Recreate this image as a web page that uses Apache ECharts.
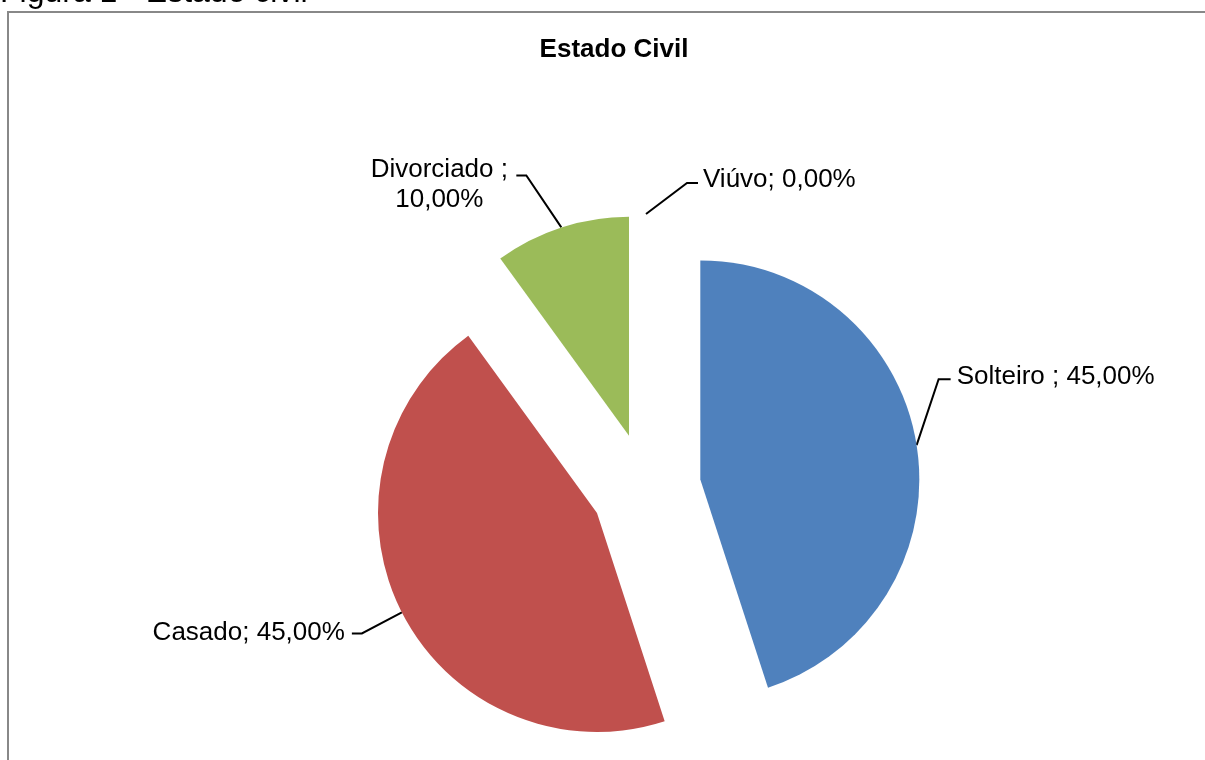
<!DOCTYPE html>
<html>
<head>
<meta charset="utf-8">
<script src="https://cdn.jsdelivr.net/npm/echarts@6/dist/echarts.min.js"></script>
<style>
  html, body { margin: 0; padding: 0; background: #ffffff; }
  #chart { width: 1205px; height: 760px; }
</style>
</head>
<body>
<div id="chart"></div>
<script>
// Marital status shares (percent)
const categories = ['Solteiro ', 'Casado', 'Divorciado ', 'Viúvo'];
const shares = [45, 45, 10, 0];
const sliceColors = ['#4F81BD', '#C0504D', '#9BBB59', '#8064A2'];
// labels that wrap onto a second line after the separator
const wrapLabel = [false, false, true, false];

const FONT = '"Liberation Sans", Arial, Helvetica, sans-serif';
const PIE_CENTER = [646, 488];
const PIE_RADIUS = 219;
const EXPLODE = 55;

// Leader line geometry, relative to the point where the line leaves its slice
const leaderLayout = [
  { elbow: [22, -66], end: [34, -66], text: [40, -68], align: 'left' },
  { elbow: [-40, 21], end: [-50, 21], text: [-57, 20], align: 'right' },
  { elbow: [-35, -52], end: [-45, -52], text: [-122, -43], align: 'center' },
  { elbow: [41, -31], end: [52, -31], text: [57, -34], align: 'left' }
];

function pctText(v) {
  return v.toFixed(2).replace('.', ',') + '%';
}

const total = shares.reduce(function (a, b) { return a + b; }, 0);

// One pie layer per slice: every layer carries the full data so the angles come
// from the pie layout, only its own slice is painted, and the layer is pushed
// outward along that slice's bisector to explode it.
let cumulative = 0;
const pieLayers = categories.map(function (name, i) {
  const mid = (cumulative + shares[i] / 2) / total * Math.PI * 2;
  cumulative += shares[i];
  return {
    type: 'pie',
    center: [PIE_CENTER[0] + EXPLODE * Math.sin(mid), PIE_CENTER[1] - EXPLODE * Math.cos(mid)],
    radius: PIE_RADIUS,
    startAngle: 90,
    clockwise: true,
    silent: true,
    avoidLabelOverlap: false,
    minShowLabelAngle: 0,
    emphasis: { disabled: true },
    itemStyle: { borderWidth: 0 },
    data: categories.map(function (n, j) {
      return {
        name: n,
        value: shares[j],
        itemStyle: { color: j === i ? sliceColors[j] : 'rgba(0,0,0,0)', borderWidth: 0 },
        label: { show: j === i },
        labelLine: { show: j === i }
      };
    }),
    label: {
      position: 'outside',
      fontFamily: FONT,
      fontSize: 26,
      lineHeight: 30,
      color: '#000000',
      formatter: function (p) {
        return p.name + ';' + (wrapLabel[p.dataIndex] ? '\n' : ' ') + pctText(p.percent);
      }
    },
    labelLine: {
      length: 20,
      length2: 10,
      lineStyle: { color: '#000000', width: 2 }
    },
    labelLayout: function (p) {
      if (!p.labelLinePoints) return {};
      const o = leaderLayout[p.dataIndex];
      const s = p.labelLinePoints[0];
      return {
        x: s[0] + o.text[0],
        y: s[1] + o.text[1],
        align: o.align,
        verticalAlign: 'middle',
        labelLinePoints: [
          [s[0], s[1]],
          [s[0] + o.elbow[0], s[1] + o.elbow[1]],
          [s[0] + o.end[0], s[1] + o.end[1]]
        ]
      };
    }
  };
});

const chart = echarts.init(document.getElementById('chart'), null, { renderer: 'canvas' });

chart.setOption({
  animation: false,
  backgroundColor: '#ffffff',
  title: {
    text: 'Estado Civil',
    left: 609,
    top: 32,
    textAlign: 'center',
    textStyle: { fontFamily: FONT, fontSize: 26, fontWeight: 'bold', color: '#000000' }
  },
  graphic: [
    {
      type: 'text',
      left: 0,
      top: -23,
      style: { text: 'Figura 1 - Estado civil', font: '32px ' + FONT, fill: '#000000' }
    },
    {
      type: 'rect',
      shape: { x: 8, y: 12, width: 1220, height: 780 },
      style: { fill: 'none', stroke: '#888888', lineWidth: 2 },
      silent: true
    }
  ],
  series: pieLayers
});
</script>
</body>
</html>
